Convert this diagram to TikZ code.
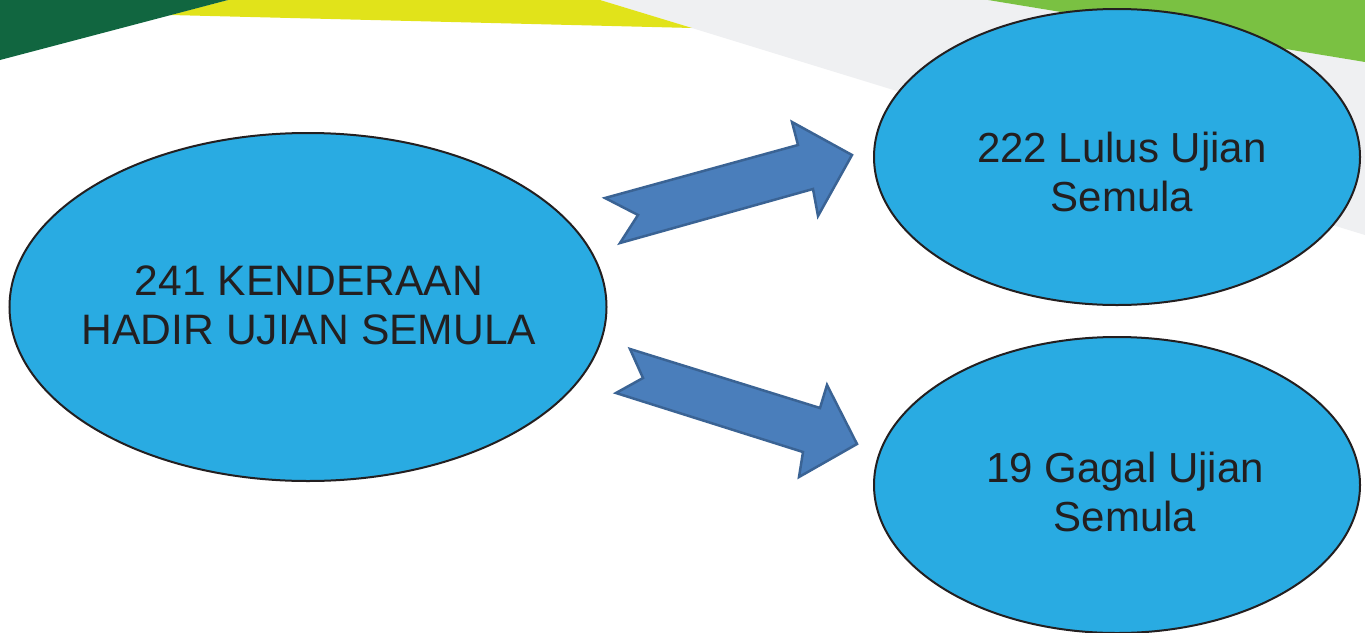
\documentclass[tikz,border=0pt]{standalone}
\usepackage{fontspec}
\setmainfont{Liberation Sans}
\usetikzlibrary{shapes.geometric}
\definecolor{dkgreen}{RGB}{17,102,64}
\definecolor{ltyellow}{RGB}{225,227,26}
\definecolor{ltgray}{RGB}{239,240,242}
\definecolor{ltgreen}{RGB}{122,193,66}
\definecolor{ellfill}{RGB}{41,171,226}
\definecolor{inkc}{RGB}{35,31,32}
\definecolor{arrfill}{RGB}{74,126,187}
\definecolor{arrdraw}{RGB}{58,99,148}
\tikzset{
  bubble/.style={ellipse, draw=inkc, line width=2pt, fill=ellfill, inner sep=0pt},
  bubbletext/.style={align=center, text=inkc, font=\fontsize{42}{49}\selectfont, inner sep=0pt},
  blockarrow/.style={fill=arrfill, draw=arrdraw, line width=2.5pt, line join=miter}
}
\begin{document}
\begin{tikzpicture}[x=1pt,y=-1pt]
\useasboundingbox (0,0) rectangle (1365,632);
\fill[white] (0,0) rectangle (1365,632);
% background bands
\fill[ltgray] (600,0) -- (988,0) -- (1365,62) -- (1365,235) -- (692,28) -- cycle;
\fill[ltgreen] (988,0) -- (1365,0) -- (1365,62) -- cycle;
\fill[ltyellow] (228,0) -- (600,0) -- (692,28) -- (170,15) -- cycle;
\fill[dkgreen] (0,0) -- (228,0) -- (0,60) -- cycle;
% ellipses
\node[bubble, minimum width=597pt, minimum height=348pt] (src) at (308,307) {};
\node[bubble, minimum width=486pt, minimum height=296pt] (pass) at (1117,157) {};
\node[bubble, minimum width=486pt, minimum height=296pt] (fail) at (1117,485) {};
% texts
\node[bubbletext, font=\fontsize{42.6}{49}\selectfont] (srct) at (309,305) {241 KENDERAAN\\HADIR UJIAN SEMULA};
\node[bubbletext] (passt) at (1122,171.5) {222 Lulus Ujian\\Semula};
\node[bubbletext] (failt) at (1125,492) {19 Gagal Ujian\\Semula};
% block arrows
\coordinate (a1) at (605,198);
\coordinate (a2) at (638,215);
\coordinate (a3) at (620,243);
\coordinate (a4) at (813,189);
\coordinate (a5) at (818,216);
\coordinate (a6) at (852,155);
\coordinate (a7) at (792,122);
\coordinate (a8) at (798,145);
\draw[blockarrow] (a1) -- (a2) -- (a3) -- (a4) -- (a5) -- (a6) -- (a7) -- (a8) -- cycle;
\coordinate (b1) at (630,349);
\coordinate (b2) at (643,378);
\coordinate (b3) at (616,393);
\coordinate (b4) at (803,452);
\coordinate (b5) at (799,477);
\coordinate (b6) at (857,444);
\coordinate (b7) at (827,385);
\coordinate (b8) at (820,408);
\draw[blockarrow] (b1) -- (b2) -- (b3) -- (b4) -- (b5) -- (b6) -- (b7) -- (b8) -- cycle;
\end{tikzpicture}
\end{document}
